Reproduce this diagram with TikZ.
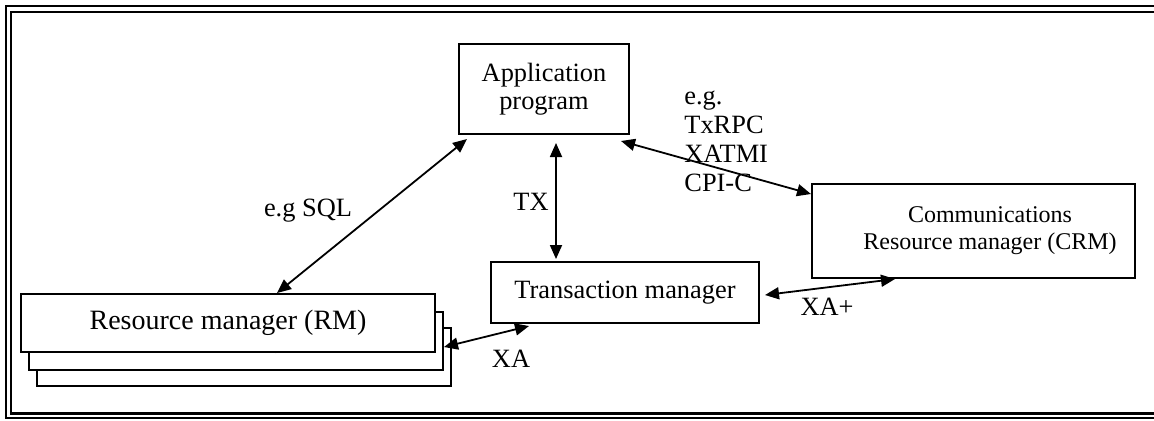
\documentclass[tikz,border=0pt]{standalone}
\usepackage{fontspec}
\setmainfont{Liberation Serif}
\usetikzlibrary{arrows.meta}

\tikzset{
  txt/.style={font=\fontsize{13.2}{14.5}\selectfont, inner sep=0pt},
  box/.style={txt, draw, line width=1pt, fill=white, align=center},
  rmbox/.style={box, font=\fontsize{14}{14.5}\selectfont, minimum width=207pt, minimum height=29pt},
  link/.style={line width=0.9pt, {Triangle[length=7pt,width=6pt]}-{Triangle[length=7pt,width=6pt]}}
}

\begin{document}
\begin{tikzpicture}[x=0.5pt, y=-0.5pt]
    \useasboundingbox (0,0) rectangle (1154,420);

    % Rahmen
    \draw[line width=1pt] (5.5,6) rectangle (1220,417.5);
    \draw[line width=1.4pt] (11,12) rectangle (1214,413.5);

    % Boxen
    \node[box, font=\fontsize{13.2}{14}\selectfont, minimum width=85pt, minimum height=45pt] (app) at (544,89) {Application\\program};
    \node[box, minimum width=134pt, minimum height=30.5pt] (tm) at (625,292.5) {Transaction manager};
    \node[box, minimum width=161.5pt, minimum height=47pt,
          label={[txt, font=\fontsize{12}{13.5}\selectfont, align=center, xshift=8.25pt]center:Communications\\Resource manager (CRM)}] (crm) at (973.5,231) {};

    % RM-Stapel
    \node[rmbox] (rm3) at (244,357) {};
    \node[rmbox] (rm2) at (236,340.5) {Resource manager (RM)};
    \node[rmbox] (rm) at (228,323) {Resource manager (RM)};

    % Verbindungen
    \draw[link] ([xshift=128.5pt]rm.north west) -- ([xshift=4.5pt, yshift=-2pt]app.south west);
    \draw[link] ([xshift=49pt, yshift=-4pt]app.south west) -- ([xshift=33pt, yshift=1pt]tm.north west);
    \draw[link] ([xshift=-4.5pt, yshift=-3pt]app.south east) -- ([yshift=-5.5pt]crm.north west);
    \draw[link] ([xshift=2.5pt, yshift=-1.25pt]tm.east) -- ([xshift=42pt]crm.south west);
    \draw[link] ([yshift=-3.25pt]rm2.east) -- ([xshift=19.5pt, yshift=-1pt]tm.south west);

    % Beschriftungen
    \node[txt] (sql) at (308,211) {e.g SQL};
    \node[txt] (tx) at (531,202) {TX};
    \node[txt, anchor=west, align=left] (rpc) at (684,141.5) {e.g.\\TxRPC\\XATMI\\CPI-C};
    \node[txt] (xaplus) at (827,307) {XA+};
    \node[txt] (xa) at (511,359) {XA};
\end{tikzpicture}
\end{document}
